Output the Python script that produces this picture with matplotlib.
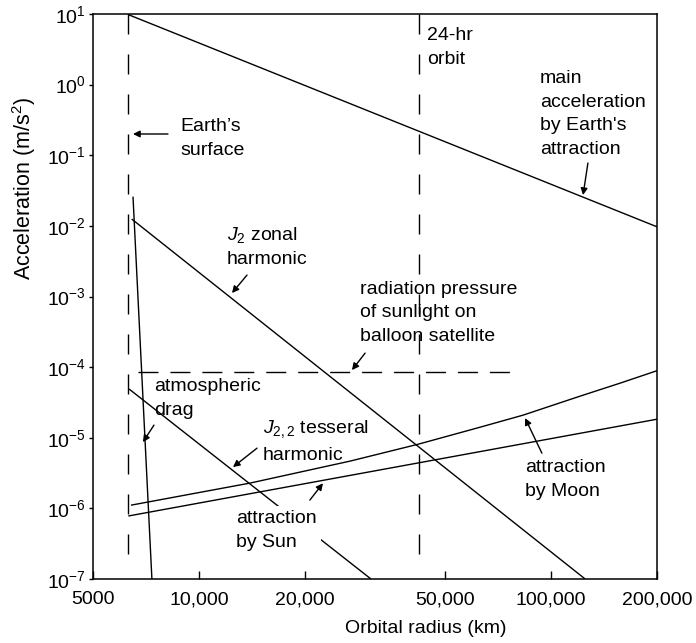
import matplotlib
matplotlib.use("Agg")
import matplotlib.pyplot as plt
from matplotlib.ticker import FixedLocator, FixedFormatter, NullLocator

plt.rcParams['font.family'] = ['Liberation Sans', 'DejaVu Sans']
plt.rcParams['mathtext.fontset'] = 'custom'
plt.rcParams['mathtext.rm'] = 'Liberation Sans'
plt.rcParams['mathtext.it'] = 'Liberation Sans:italic'
plt.rcParams['axes.unicode_minus'] = False
plt.rcParams['lines.scale_dashes'] = False

# orbital radius (km) / acceleration (m/s^2)
earth_r = 6300      # Earth's surface
geo_r = 42164       # 24-hr orbit
vline_a = [10, 1.5e-7]

main_r = [6300, 200000]
main_a = [9.8, 0.0097]

j2_r = [6440, 125000]
j2_a = [1.25e-2, 1.0e-7]

drag_r = [6495, 7350]
drag_a = [2.6e-2, 1.0e-7]

j22_r = [6330, 30800]
j22_a = [4.9e-5, 1.0e-7]

sun_r = [6300, 200000]
sun_a = [7.8e-7, 1.83e-5]

moon_r = [6410, 13960, 26870, 41950, 62870, 83300, 120900, 157100, 200000]
moon_a = [1.11e-6, 2.28e-6, 4.67e-6, 8.1e-6, 1.41e-5, 2.09e-5, 3.88e-5, 5.93e-5, 8.9e-5]

rad_r = [6710, 80700]
rad_a = [8.6e-5, 8.6e-5]

x_ticks = [5000, 10000, 20000, 50000, 100000, 200000]
x_labels = ['5000', '10,000', '20,000', '50,000', '100,000', '200,000']
y_ticks = [1e-7, 1e-6, 1e-5, 1e-4, 1e-3, 1e-2, 1e-1, 1e0, 1e1]

fig = plt.figure(figsize=(6.96, 6.43), dpi=100)
ax = fig.add_axes([93 / 696, 1 - 579 / 643, 564 / 696, 565 / 643])
ax.set_xscale('log')
ax.set_yscale('log')
ax.set_xlim(5000, 200000)
ax.set_ylim(1e-7, 1e1)

lw = 1.0
vdash = (0, (14.4, 14.4))
hdash = (0, (14.4, 8.6))
ax.plot([earth_r, earth_r], vline_a, color='k', lw=lw, linestyle=vdash)
ax.plot([geo_r, geo_r], vline_a, color='k', lw=lw, linestyle=vdash)
ax.plot(rad_r, rad_a, color='k', lw=lw, linestyle=hdash)

for r, a in [(main_r, main_a), (j2_r, j2_a), (drag_r, drag_a), (j22_r, j22_a),
             (sun_r, sun_a), (moon_r, moon_a)]:
    ax.plot(r, a, color='k', lw=lw, solid_capstyle='butt', solid_joinstyle='round')

fs = 14
ls = 1.5
texts = [
    (44460, 3.35, "24-hr\norbit"),
    (93000, 0.383, "main\nacceleration\nby Earth's\nattraction"),
    (8830, 0.172, "Earth\u2019s\nsurface"),
    (12010, 5.09e-3, "$J_2$ zonal\nharmonic"),
    (28700, 5.91e-4, "radiation pressure\nof sunlight on\nballoon satellite"),
    (7450, 3.58e-5, "atmospheric\ndrag"),
    (15200, 8.95e-6, "$J_{2,2}$ tesseral\nharmonic"),
    (84400, 2.55e-6, "attraction\nby Moon"),
]
for r, a, s in texts:
    ax.text(r, a, s, fontsize=fs, ha='left', va='center', linespacing=ls, zorder=4)

# label that breaks the J2,2 line
ax.text(12740, 4.83e-7, "attraction\nby Sun", fontsize=fs, ha='left', va='center',
        linespacing=ls, zorder=4,
        bbox=dict(facecolor='white', edgecolor='none', pad=3))

arrows = [
    ((127300, 0.0776), (123300, 0.0273)),
    ((8165, 0.2), (6495, 0.2)),
    ((13690, 2.01e-3), (12410, 1.12e-3)),
    ((29640, 1.58e-4), (27200, 9.08e-5)),
    ((7450, 1.51e-5), (6930, 8.67e-6)),
    ((14620, 7.13e-6), (12490, 3.84e-6)),
    ((20650, 1.31e-6), (22500, 2.27e-6)),
    ((94200, 6.05e-6), (84400, 1.90e-5)),
]
for tail, head in arrows:
    ax.annotate('', xy=head, xytext=tail, zorder=5,
                arrowprops=dict(arrowstyle='-|>', color='k', lw=1.0,
                                mutation_scale=10, shrinkA=0, shrinkB=0))

ax.xaxis.set_major_locator(FixedLocator(x_ticks))
ax.xaxis.set_major_formatter(FixedFormatter(x_labels))
ax.xaxis.set_minor_locator(NullLocator())
ax.yaxis.set_major_locator(FixedLocator(y_ticks))
ax.yaxis.set_minor_locator(NullLocator())
ax.tick_params(axis='x', direction='in', length=6, width=1.0, pad=9, labelsize=fs)
ax.tick_params(axis='y', direction='out', length=3, width=1.0, pad=2, labelsize=fs)
for sp in ax.spines.values():
    sp.set_linewidth(1.1)

ax.set_xlabel("Orbital radius (km)", fontsize=fs)
ax.set_ylabel("Acceleration (m/s$^2$)", fontsize=15.5)
ax.xaxis.set_label_coords(0.59, -0.072)
ax.yaxis.set_label_coords(-0.0975, 0.692)

fig.savefig("out.png", dpi=100)
